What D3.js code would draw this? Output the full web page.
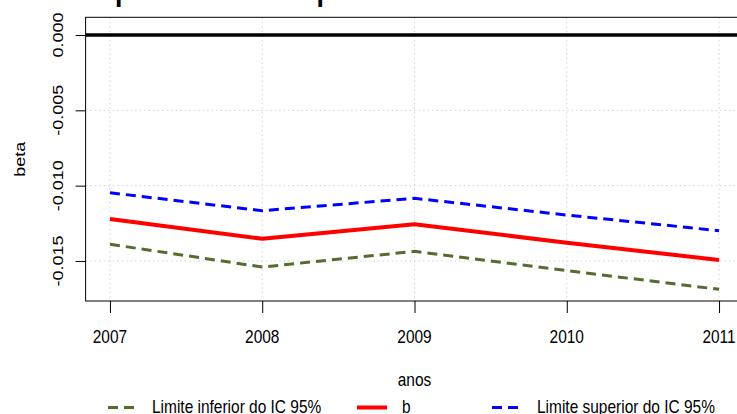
<!DOCTYPE html>
<html>
<head>
<meta charset="utf-8">
<script src="https://cdn.jsdelivr.net/npm/d3@7"></script>
<style>
  body { margin: 0; background: #fff; overflow: hidden; }
  text { font-family: "Liberation Sans", Arial, sans-serif; fill: #000; }
</style>
</head>
<body>
<script>
// data
var years = [2007, 2008, 2009, 2010, 2011];
var bValues = [-0.01221, -0.01352, -0.01256, -0.01379, -0.01493];
var lowerValues = [-0.01389, -0.01540, -0.01436, -0.01564, -0.01688];
var upperValues = [-0.01047, -0.01166, -0.01084, -0.01195, -0.01299];
var yTicks = [0, -0.005, -0.010, -0.015];
var yTickLabels = ["0.000", "-0.005", "-0.010", "-0.015"];
var legendLabels = ["Limite inferior do IC 95%", "b", "Limite superior do IC 95%"];
var titleText = "Estimativas do comportamento temporal da mortalidade infantil";

var W = 737, H = 414;
var plot = {left: 85.6, right: 743.4, top: 17.3, bottom: 301};
var sx = 0.86; // the picture is squeezed sideways

var svg = d3.select("body").append("svg")
    .attr("width", W)
    .attr("height", H);

var x = d3.scaleLinear()
    .domain([2006.84, 2011.16])
    .range([plot.left, plot.right]);

var y = d3.scaleLinear()
    .domain([-0.017655, 0.001175])
    .range([plot.bottom, plot.top]);

// text drawn with the same squeeze as the picture
function addText(g, tx, ty, str, rot, anchor, size, weight) {
    return g.append("text")
        .attr("transform", "translate(" + tx + "," + ty + ") scale(" + sx + ",1) rotate(" + rot + ")")
        .attr("text-anchor", anchor)
        .style("font-size", size + "px")
        .style("font-weight", weight || "normal")
        .text(str);
}

svg.append("clipPath").attr("id", "clip")
    .append("rect")
    .attr("x", plot.left).attr("y", plot.top)
    .attr("width", plot.right - plot.left)
    .attr("height", plot.bottom - plot.top);

// grid
var grid = svg.append("g")
    .attr("stroke", "#D3D3D3")
    .attr("stroke-dasharray", "1.5,3")
    .attr("stroke-width", 1);
grid.selectAll(".vg").data(years).join("line")
    .attr("class", "vg")
    .attr("x1", d => x(d)).attr("x2", d => x(d))
    .attr("y1", plot.top).attr("y2", plot.bottom);
grid.selectAll(".hg").data(yTicks).join("line")
    .attr("class", "hg")
    .attr("x1", plot.left).attr("x2", plot.right)
    .attr("y1", d => y(d)).attr("y2", d => y(d));

// series
var series = [
    {values: lowerValues, color: "#556B2F", width: 3, dash: "10,6"},
    {values: bValues, color: "#FF0000", width: 4, dash: null},
    {values: upperValues, color: "#0000FF", width: 3, dash: "10,6"}
];

var line = d3.line()
    .x((d, i) => x(years[i]))
    .y(d => y(d));

var lines = svg.append("g").attr("clip-path", "url(#clip)");

lines.append("line")
    .attr("x1", plot.left).attr("x2", plot.right)
    .attr("y1", y(0)).attr("y2", y(0))
    .attr("stroke", "#000")
    .attr("stroke-width", 3.5);

lines.selectAll(".series").data(series).join("path")
    .attr("class", "series")
    .attr("d", d => line(d.values))
    .attr("fill", "none")
    .attr("stroke", d => d.color)
    .attr("stroke-width", d => d.width)
    .attr("stroke-dasharray", d => d.dash)
    .attr("stroke-linejoin", "round");

// box
svg.append("rect")
    .attr("x", plot.left).attr("y", plot.top)
    .attr("width", plot.right - plot.left)
    .attr("height", plot.bottom - plot.top)
    .attr("fill", "none")
    .attr("stroke", "#000")
    .attr("stroke-width", 1);

// axes: ticks only, labels added below
var xAxis = svg.append("g")
    .attr("transform", "translate(0," + plot.bottom + ")")
    .call(d3.axisBottom(x).tickValues(years).tickSize(12).tickFormat(""));
xAxis.select(".domain").remove();

var yAxis = svg.append("g")
    .attr("transform", "translate(" + plot.left + ",0)")
    .call(d3.axisLeft(y).tickValues(yTicks).tickSize(10).tickFormat(""));
yAxis.select(".domain").remove();

svg.selectAll(".tick line").attr("stroke", "#000");

var labels = svg.append("g");
years.forEach(function(yr) {
    addText(labels, x(yr), 342.5, String(yr), 0, "middle", 18);
});
yTicks.forEach(function(t, i) {
    addText(labels, 63, y(t), yTickLabels[i], -90, "middle", 18);
});

addText(labels, (plot.left + plot.right) / 2, 386, "anos", 0, "middle", 18);
addText(labels, 24.5, (plot.top + plot.bottom) / 2, "beta", -90, "middle", 18);

// title, cut off at the top edge; placed so the "p" of comportamento sits near x=115
var titleY = 0;
var title = addText(labels, 0, titleY, titleText, 0, "start", 31, "bold");
var pIdx = titleText.indexOf("p");
var pPos = title.node().getStartPositionOfChar(pIdx).x;
title.attr("transform", "translate(" + (115 - pPos * sx) + "," + titleY + ") scale(" + sx + ",1)");

// legend
var legendY = 407.5;
var legendItems = [
    {x1: 108, x2: 134, tx: 152},
    {x1: 357, x2: 387, tx: 402},
    {x1: 492, x2: 518, tx: 537}
];
var legend = svg.append("g");
legendItems.forEach(function(it, i) {
    legend.append("line")
        .attr("x1", it.x1).attr("x2", it.x2)
        .attr("y1", legendY).attr("y2", legendY)
        .attr("stroke", series[i].color)
        .attr("stroke-width", series[i].width)
        .attr("stroke-dasharray", series[i].dash);
    addText(legend, it.tx, 412.5, legendLabels[i], 0, "start", 18);
});
</script>
</body>
</html>
